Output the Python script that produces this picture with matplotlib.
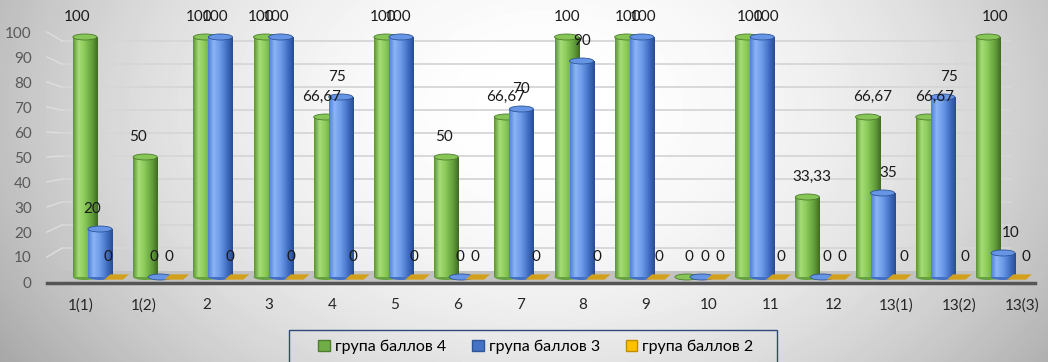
import numpy as np
import matplotlib
matplotlib.use('Agg')
from matplotlib import pyplot as plt
from matplotlib.patches import Ellipse, Polygon, Patch, Rectangle
from matplotlib.colors import LinearSegmentedColormap

categories = ['1(1)', '1(2)', '2', '3', '4', '5', '6', '7', '8', '9', '10',
              '11', '12', '13(1)', '13(2)', '13(3)']
grp4 = [100, 50, 100, 100, 66.67, 100, 50, 66.67, 100, 100, 0, 100, 33.33, 66.67, 66.67, 100]
grp3 = [20, 0, 100, 100, 75, 100, 0, 70, 90, 100, 0, 100, 0, 35, 75, 10]
grp2 = [0, 0, 0, 0, 0, 0, 0, 0, 0, 0, 0, 0, 0, 0, 0, 0]
series_names = ['група баллов 4', 'група баллов 3', 'група баллов 2']
y_ticks = [0, 10, 20, 30, 40, 50, 60, 70, 80, 90, 100]

plt.rcParams['font.family'] = ['Lato', 'DejaVu Sans']

W, H = 1048, 362
# pixel layout of the plot box
AX_L, AX_R, AX_T, AX_B = 47, 1035, 20, 283
# pixel of group 0 (middle bar) and pitch; pixel of value 0 and px per unit
X0_PX, DX_PX = 100, 60.2
Y0_PX, DY_PX = 277, 2.4


def px2x(px):
    return (px - X0_PX) / DX_PX


def py2y(py):
    return (Y0_PX - py) / DY_PX


# fake 3d: front plane is a bit wider / taller than the bar plane
MID = (len(categories) - 1) / 2
TICK_SPREAD = 1.042
LABEL_SPREAD = 1.017

fig = plt.figure(figsize=(W / 100, H / 100), dpi=100)

# radial grey background
bg = fig.add_axes([0, 0, 1, 1], zorder=-5)
yy, xx = np.mgrid[0:1:362j, 0:1:1048j]
r = np.sqrt(((xx - 0.52) / 0.56) ** 2 + ((yy - 0.3) / 1.15) ** 2)
shade = 1 - 0.28 * np.clip(r, 0, 1.3) ** 2
bg.imshow(shade, cmap='gray', vmin=0, vmax=1, aspect='auto', interpolation='bilinear')
bg.axis('off')

ax = fig.add_axes([AX_L / W, (H - AX_B) / H, (AX_R - AX_L) / W, (AX_B - AX_T) / H])
ax.set_facecolor('none')

# floor and back wall grid
floor = Polygon([(px2x(47), py2y(282)), (px2x(1040), py2y(282)),
                 (px2x(1046), py2y(271)), (px2x(62), py2y(271))],
                closed=True, facecolor='#c2c2c2', edgecolor='none', zorder=1, clip_on=False)
ax.add_patch(floor)
for t in y_ticks[1:]:
    yb = py2y(271 - 2.3 * t)
    ax.plot([px2x(62), px2x(1010)], [yb, yb], color='#d6d6d6', lw=1.3, zorder=0.5, clip_on=False)
    ax.plot([px2x(47), px2x(62)], [py2y(282 - 2.5 * t), yb], color='#dedede', lw=1.0,
            zorder=0.5, clip_on=False)

green_cm = LinearSegmentedColormap.from_list('g', [(0, '#5c9436'), (0.22, '#a6dd77'), (0.45, '#8ccb5b'),
                                                   (0.8, '#5f9a38'), (1, '#3f6a24')])
blue_cm = LinearSegmentedColormap.from_list('b', [(0, '#4f80d6'), (0.22, '#8cb5f5'), (0.5, '#6a98e8'),
                                                  (0.8, '#3d69bd'), (1, '#2a4c8e')])
grad = np.linspace(0, 1, 64).reshape(1, -1)

BAR_W = 0.40
CAP_H = 2.5


def cylinder(xc, v, cmap, cap, edge, z):
    x0, x1 = xc - BAR_W / 2, xc + BAR_W / 2
    if v > 0:
        ax.add_patch(Ellipse((xc, 0), BAR_W, CAP_H, facecolor=cmap(0.75), edgecolor='none', zorder=z - 0.05))
        ax.imshow(grad, extent=(x0, x1, 0, v), cmap=cmap, aspect='auto',
                  interpolation='bilinear', zorder=z)
    ax.add_patch(Ellipse((xc, v), BAR_W, CAP_H, facecolor=cap, edgecolor=edge, lw=0.6, zorder=z + 0.1))


def flat_box(xc, cap, z):
    w = BAR_W * 0.9
    ax.add_patch(Polygon([(xc - w / 2, -1.1), (xc + w / 2 - 0.05, -1.1),
                          (xc + w / 2 + 0.05, 1.1), (xc - w / 2 + 0.1, 1.1)],
                         closed=True, facecolor=cap, edgecolor='none', zorder=z))


def fmt(v):
    return f'{v:g}'.replace('.', ',')


offsets = [-0.25, 0.0, 0.25]
for k in range(len(categories)):
    cylinder(k + offsets[0], grp4[k], green_cm, '#86c556', '#4d7d2e', 3 + k * 0.01)
    cylinder(k + offsets[1], grp3[k], blue_cm, '#6595e4', '#2f5597', 4 + k * 0.01)
    flat_box(k + offsets[2], '#d3a01c', 5)

for vals, off in zip([grp4, grp3, grp2], offsets):
    for k, v in enumerate(vals):
        xl = MID + (k + off - MID) * LABEL_SPREAD
        ax.annotate(fmt(v), (xl, v), xytext=(0, 14.4), textcoords='offset points',
                    ha='center', va='center', fontsize=11, color='#1a1a1a',
                    zorder=10, annotation_clip=False)

ax.set_xlim(px2x(AX_L), px2x(AX_R))
ax.set_ylim(py2y(AX_B), py2y(AX_T))

tick_x = [MID + (k - MID) * TICK_SPREAD for k in range(len(categories))]
ax.set_xticks(tick_x, categories)
ax.set_yticks([py2y(282 - 2.5 * t) for t in y_ticks], [str(t) for t in y_ticks])
ax.tick_params(axis='x', length=0, pad=11, labelsize=11, labelcolor='#262626')
ax.tick_params(axis='y', length=0, pad=11, labelsize=11, labelcolor='#595959')
for s in ['top', 'right', 'left']:
    ax.spines[s].set_visible(False)
ax.spines['bottom'].set_color('#555555')
ax.spines['bottom'].set_linewidth(2.5)

# legend box drawn separately so it can be wider than its entries
fig.patches.append(Rectangle((289 / W, -2 / H), 488 / W, 34 / H, transform=fig.transFigure,
                             facecolor='none', edgecolor='#2e4a78', lw=1.0))
handles = [Patch(facecolor='#70ad47', edgecolor='#4e7d2f'),
           Patch(facecolor='#4472c4', edgecolor='#2f5597'),
           Patch(facecolor='#ffc000', edgecolor='#bf8f00')]
fig.legend(handles, series_names, loc='center', ncol=3,
           bbox_to_anchor=(536 / W, (H - 347) / H),
           fontsize=11.5, handlelength=0.75, handleheight=0.75, handletextpad=0.3,
           columnspacing=1.6, frameon=False, borderpad=0, borderaxespad=0)

plt.savefig('out.png', dpi=100)
